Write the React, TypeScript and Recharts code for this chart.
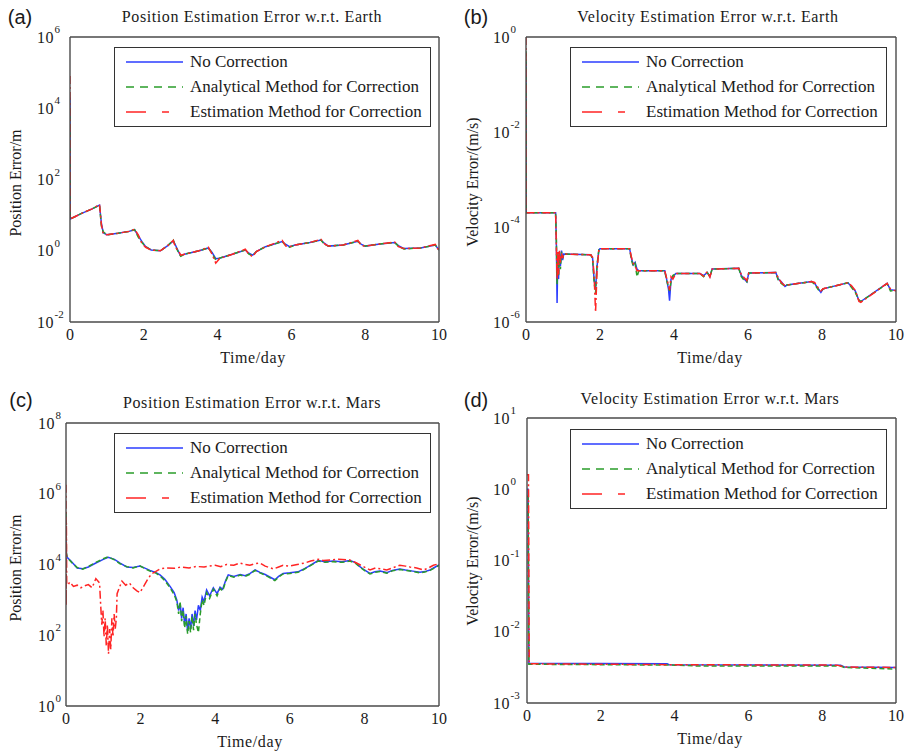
import React from "react";
import { LineChart, Line, XAxis, YAxis, Legend } from "recharts";

type Pt = [number, number];

const SERIF = '"Liberation Serif", "Times New Roman", serif';
const SANS = '"Liberation Sans", Arial, sans-serif';

// tick values
const dayTicks = [0, 2, 4, 6, 8, 10];
const posEarthTicks = [1e-2, 1, 1e2, 1e4, 1e6];
const velEarthTicks = [1e-6, 1e-4, 1e-2, 1];
const posMarsTicks = [1, 1e2, 1e4, 1e6, 1e8];
const velMarsTicks = [1e-3, 1e-2, 1e-1, 1, 10];
const velMarsMinor = [
  0.002, 0.003, 0.004, 0.005, 0.006, 0.007, 0.008, 0.009,
  0.02, 0.03, 0.04, 0.05, 0.06, 0.07, 0.08, 0.09,
  0.2, 0.3, 0.4, 0.5, 0.6, 0.7, 0.8, 0.9,
  2, 3, 4, 5, 6, 7, 8, 9,
];

const seriesNames = [
  "No Correction",
  "Analytical Method for Correction",
  "Estimation Method for Correction",
];

// (a) position error w.r.t. Earth, [day, m]
const posEarthNo: Pt[] = [
  [0, 2e4], [0.005, 7.8], [0.3, 11], [0.6, 15], [0.8, 19], [0.85, 6], [0.9, 3.2], [1.0, 2.8],
  [1.3, 3.1], [1.6, 3.5], [1.75, 3.9], [1.85, 2.6], [1.95, 1.8], [2.05, 1.3], [2.2, 1.05],
  [2.45, 1.0], [2.65, 1.4], [2.8, 1.9], [2.85, 1.5], [2.95, 0.9], [3.0, 0.72], [3.1, 0.8],
  [3.5, 1.0], [3.75, 1.2], [3.85, 0.9], [3.95, 0.6], [4.05, 0.62], [4.4, 0.8], [4.75, 1.05],
  [4.85, 0.85], [4.95, 0.75], [5.05, 0.95], [5.3, 1.3], [5.75, 1.8], [5.85, 1.5], [5.95, 1.3],
  [6.1, 1.45], [6.5, 1.7], [6.8, 2.0], [6.9, 1.6], [7.0, 1.35], [7.4, 1.45], [7.8, 1.85],
  [7.9, 1.5], [8.0, 1.35], [8.4, 1.55], [8.8, 1.7], [8.9, 1.4], [9.05, 1.15], [9.5, 1.2],
  [9.9, 1.45], [10, 1.05],
];
const posEarthAna: Pt[] = [
  [0, 1e4], [0.005, 7.8], [0.3, 11], [0.6, 15], [0.8, 19], [0.85, 5], [0.9, 3.4], [1.0, 2.8],
  [1.3, 3.1], [1.6, 3.5], [1.75, 3.9], [1.85, 2.4], [1.95, 1.7], [2.05, 1.3], [2.2, 1.05],
  [2.45, 1.0], [2.65, 1.4], [2.8, 2.0], [2.85, 1.4], [2.95, 0.85], [3.0, 0.7], [3.1, 0.8],
  [3.5, 1.0], [3.75, 1.2], [3.85, 0.85], [3.95, 0.55], [4.05, 0.62], [4.4, 0.8], [4.75, 1.05],
  [4.85, 0.8], [4.95, 0.72], [5.05, 0.95], [5.3, 1.3], [5.75, 1.8], [5.85, 1.4], [5.95, 1.25],
  [6.1, 1.45], [6.5, 1.7], [6.8, 2.0], [6.9, 1.5], [7.0, 1.35], [7.4, 1.45], [7.8, 1.85],
  [7.9, 1.45], [8.0, 1.35], [8.4, 1.55], [8.8, 1.7], [8.9, 1.35], [9.05, 1.12], [9.5, 1.2],
  [9.9, 1.45], [10, 1.05],
];
const posEarthEst: Pt[] = [
  [0, 8e4], [0.005, 7.8], [0.3, 11], [0.6, 15], [0.8, 20], [0.85, 5.5], [0.9, 3.0], [1.0, 2.8],
  [1.3, 3.1], [1.6, 3.5], [1.75, 4.0], [1.85, 2.8], [1.95, 1.6], [2.05, 1.25], [2.2, 1.05],
  [2.45, 1.0], [2.65, 1.4], [2.8, 1.95], [2.85, 1.3], [2.95, 0.95], [3.0, 0.75], [3.1, 0.8],
  [3.5, 1.0], [3.75, 1.25], [3.85, 0.8], [3.95, 0.45], [4.05, 0.6], [4.4, 0.8], [4.75, 1.1],
  [4.85, 0.8], [4.95, 0.68], [5.05, 0.95], [5.3, 1.3], [5.75, 1.95], [5.85, 1.35], [5.95, 1.3],
  [6.1, 1.45], [6.5, 1.7], [6.8, 2.1], [6.9, 1.55], [7.0, 1.35], [7.4, 1.45], [7.8, 1.95],
  [7.9, 1.4], [8.0, 1.35], [8.4, 1.55], [8.8, 1.75], [8.9, 1.3], [9.05, 1.15], [9.5, 1.2],
  [9.9, 1.5], [10, 1.0],
];

// (b) velocity error w.r.t. Earth, [day, m/s]
const velEarthNo: Pt[] = [
  [0, 0.3], [0.005, 2e-4], [0.8, 2e-4], [0.82, 5e-5], [0.84, 2.5e-6], [0.86, 2.5e-5], [0.88, 8e-6],
  [0.9, 3e-5], [0.93, 1.5e-5], [0.96, 3.2e-5], [0.99, 2e-5], [1.02, 2.7e-5], [1.75, 2.6e-5],
  [1.8, 2.2e-5], [1.84, 8e-6], [1.88, 5e-6], [1.92, 1.5e-5], [1.97, 3.3e-5], [2.0, 3.5e-5],
  [2.8, 3.5e-5], [2.85, 2.2e-5], [2.9, 1.6e-5], [2.95, 1.8e-5], [3.0, 1.3e-5], [3.05, 1.2e-5],
  [3.75, 1.2e-5], [3.8, 8e-6], [3.85, 5e-6], [3.88, 2.8e-6], [3.92, 8e-6], [3.97, 9e-6],
  [4.05, 1.05e-5], [4.7, 1.05e-5], [4.8, 9.5e-6], [4.9, 1.1e-5], [4.97, 9e-6], [5.03, 1.3e-5],
  [5.75, 1.35e-5], [5.82, 9.5e-6], [5.9, 8e-6], [5.97, 7e-6], [6.02, 1.07e-5], [6.75, 1.1e-5],
  [6.82, 8e-6], [6.9, 7e-6], [7.0, 5.6e-6], [7.05, 6e-6], [7.72, 7.1e-6], [7.8, 6.5e-6],
  [7.9, 5e-6], [7.97, 4.2e-6], [8.03, 5e-6], [8.7, 6.7e-6], [8.8, 5.5e-6], [8.9, 4.5e-6],
  [9.0, 2.8e-6], [9.05, 2.7e-6], [9.76, 6.5e-6], [9.85, 4.8e-6], [10, 4.6e-6],
];
const velEarthAna: Pt[] = [
  [0, 0.5], [0.005, 2e-4], [0.8, 2e-4], [0.82, 6e-5], [0.84, 6e-6], [0.86, 2.8e-5], [0.88, 9e-6],
  [0.9, 2.6e-5], [0.93, 1.3e-5], [0.96, 3e-5], [0.99, 2.2e-5], [1.02, 2.7e-5], [1.75, 2.6e-5],
  [1.8, 2.1e-5], [1.84, 7e-6], [1.88, 4e-6], [1.92, 1.6e-5], [1.97, 3.3e-5], [2.0, 3.5e-5],
  [2.8, 3.5e-5], [2.85, 2.0e-5], [2.9, 1.5e-5], [2.95, 1.7e-5], [3.0, 9e-6], [3.05, 1.2e-5],
  [3.75, 1.2e-5], [3.8, 7.5e-6], [3.85, 5.5e-6], [3.88, 4.5e-6], [3.92, 7e-6], [3.97, 9.5e-6],
  [4.05, 1.05e-5], [4.7, 1.05e-5], [4.8, 9e-6], [4.9, 1.1e-5], [4.97, 9e-6], [5.03, 1.3e-5],
  [5.75, 1.35e-5], [5.82, 9e-6], [5.9, 7.5e-6], [5.97, 7e-6], [6.02, 1.07e-5], [6.75, 1.1e-5],
  [6.82, 7.5e-6], [6.9, 6.5e-6], [7.0, 5.6e-6], [7.05, 6e-6], [7.72, 7.1e-6], [7.8, 6.2e-6],
  [7.9, 4.8e-6], [7.97, 4.4e-6], [8.03, 5e-6], [8.7, 6.7e-6], [8.8, 5.3e-6], [8.9, 4.2e-6],
  [9.0, 2.9e-6], [9.05, 2.7e-6], [9.76, 6.4e-6], [9.85, 4.5e-6], [10, 4.6e-6],
];
const velEarthEst: Pt[] = [
  [0, 1.0], [0.005, 2e-4], [0.8, 2e-4], [0.82, 4e-5], [0.84, 8e-6], [0.86, 3e-5], [0.88, 1e-5],
  [0.9, 3.3e-5], [0.93, 1.8e-5], [0.96, 2.8e-5], [0.99, 2.2e-5], [1.02, 2.7e-5], [1.75, 2.6e-5],
  [1.8, 2.3e-5], [1.84, 1e-5], [1.88, 1.6e-6], [1.92, 1.2e-5], [1.97, 3.4e-5], [2.0, 3.5e-5],
  [2.8, 3.5e-5], [2.85, 2.3e-5], [2.9, 1.7e-5], [2.95, 1.5e-5], [3.0, 1.2e-5], [3.05, 1.2e-5],
  [3.75, 1.2e-5], [3.8, 8.5e-6], [3.85, 6e-6], [3.88, 4.7e-6], [3.92, 9e-6], [3.97, 8e-6],
  [4.05, 1.05e-5], [4.7, 1.05e-5], [4.8, 9.2e-6], [4.9, 1.15e-5], [4.97, 8.8e-6], [5.03, 1.3e-5],
  [5.75, 1.35e-5], [5.82, 1e-5], [5.9, 8.5e-6], [5.97, 7.5e-6], [6.02, 1.07e-5], [6.75, 1.1e-5],
  [6.82, 8.5e-6], [6.9, 6.8e-6], [7.0, 5.8e-6], [7.05, 6e-6], [7.72, 7.1e-6], [7.8, 6.8e-6],
  [7.9, 5.2e-6], [7.97, 4.5e-6], [8.03, 5e-6], [8.7, 6.7e-6], [8.8, 5.8e-6], [8.9, 4.6e-6],
  [9.0, 2.7e-6], [9.05, 2.6e-6], [9.76, 6.5e-6], [9.85, 5e-6], [10, 4.5e-6],
];

// (c) position error w.r.t. Mars, [day, m]
const posMarsNo: Pt[] = [
  [0, 6e4], [0.01, 2e4], [0.03, 1.6e4], [0.15, 1.2e4], [0.3, 8e3], [0.45, 7.6e3], [0.6, 8.5e3],
  [0.8, 1.1e4], [1.0, 1.4e4], [1.13, 1.6e4], [1.3, 1.4e4], [1.45, 1.1e4], [1.63, 8.5e3],
  [1.8, 8.2e3], [1.98, 9e3], [2.1, 8e3], [2.25, 6.8e3], [2.4, 6e3], [2.52, 5.1e3], [2.65, 3.8e3],
  [2.79, 2.4e3], [2.9, 1.6e3], [2.97, 1e3], [3.02, 5e2], [3.06, 8e2], [3.1, 3e2], [3.14, 6e2],
  [3.18, 2e2], [3.22, 4e2], [3.26, 1.3e2], [3.3, 3e2], [3.34, 1.5e2], [3.38, 4e2], [3.42, 1.8e2],
  [3.46, 5e2], [3.5, 2.7e2], [3.55, 7e2], [3.6, 5e2], [3.65, 1.2e3], [3.7, 9e2], [3.77, 1.9e3],
  [3.85, 1.3e3], [3.95, 2.2e3], [4.05, 1.5e3], [4.13, 2.3e3], [4.2, 2e3], [4.28, 3.5e3],
  [4.35, 5.1e3], [4.5, 4.6e3], [4.67, 5.2e3], [4.8, 4.8e3], [4.93, 5.5e3], [5.07, 7e3],
  [5.2, 6e3], [5.34, 5.2e3], [5.45, 4.5e3], [5.6, 3.7e3], [5.7, 4.6e3], [5.82, 5.6e3],
  [6.0, 5.8e3], [6.22, 6.2e3], [6.35, 7.2e3], [6.49, 8.7e3], [6.62, 1.05e4], [6.76, 1.3e4],
  [6.95, 1.2e4], [7.16, 1.25e4], [7.4, 1.2e4], [7.61, 1.3e4], [7.75, 1.15e4], [7.88, 8.7e3],
  [8.0, 7e3], [8.15, 5.6e3], [8.28, 6.2e3], [8.42, 6.5e3], [8.6, 5.9e3], [8.75, 6.8e3],
  [8.95, 7.5e3], [9.1, 7e3], [9.3, 6.5e3], [9.49, 6e3], [9.62, 6.3e3], [9.76, 7e3],
  [9.9, 8.5e3], [10, 9.8e3],
];
const posMarsAna: Pt[] = [
  [0, 3e5], [0.01, 2.2e4], [0.03, 1.6e4], [0.15, 1.15e4], [0.3, 8.2e3], [0.45, 7.4e3], [0.6, 8.8e3],
  [0.8, 1.15e4], [1.0, 1.45e4], [1.13, 1.65e4], [1.3, 1.35e4], [1.45, 1.05e4], [1.63, 8.7e3],
  [1.8, 8e3], [1.98, 9.2e3], [2.1, 7.8e3], [2.25, 6.5e3], [2.4, 5.8e3], [2.52, 4.8e3], [2.65, 3.5e3],
  [2.79, 2.2e3], [2.9, 1.4e3], [2.97, 9e2], [3.02, 4e2], [3.06, 9e2], [3.1, 2.5e2], [3.14, 5e2],
  [3.18, 1.6e2], [3.22, 3.5e2], [3.26, 1.1e2], [3.3, 2.5e2], [3.34, 1.2e2], [3.38, 3.5e2],
  [3.42, 1.4e2], [3.46, 4e2], [3.5, 2e2], [3.55, 1.2e2], [3.6, 4e2], [3.65, 1e3], [3.7, 7e2],
  [3.77, 1.6e3], [3.85, 1.1e3], [3.95, 2e3], [4.05, 1.3e3], [4.13, 2.1e3], [4.2, 1.8e3],
  [4.28, 3.3e3], [4.35, 4.9e3], [4.5, 4.4e3], [4.67, 5e3], [4.8, 4.6e3], [4.93, 5.3e3],
  [5.07, 6.8e3], [5.2, 5.8e3], [5.34, 5e3], [5.45, 4.3e3], [5.6, 3.5e3], [5.7, 4.4e3],
  [5.82, 5.4e3], [6.0, 5.6e3], [6.22, 6e3], [6.35, 7e3], [6.49, 8.5e3], [6.62, 1.02e4],
  [6.76, 1.25e4], [6.95, 1.15e4], [7.16, 1.2e4], [7.4, 1.15e4], [7.61, 1.25e4], [7.75, 1.1e4],
  [7.88, 8.4e3], [8.0, 6.8e3], [8.15, 5.4e3], [8.28, 6e3], [8.42, 6.3e3], [8.6, 5.7e3],
  [8.75, 6.6e3], [8.95, 7.2e3], [9.1, 6.8e3], [9.3, 6.3e3], [9.49, 5.8e3], [9.62, 6.1e3],
  [9.76, 6.8e3], [9.9, 8.2e3], [10, 9.5e3],
];
const posMarsEst: Pt[] = [
  [0, 1.8e6], [0.005, 7e2], [0.01, 1.5e5], [0.02, 3e3], [0.05, 2.6e3], [0.1, 3.2e3], [0.2, 2.4e3],
  [0.3, 2.6e3], [0.4, 2.2e3], [0.5, 2.5e3], [0.6, 2.7e3], [0.7, 2.2e3], [0.8, 4e3], [0.9, 3e3],
  [0.93, 7e2], [0.96, 2e2], [0.99, 5e2], [1.02, 9e1], [1.05, 3e2], [1.08, 5e1], [1.11, 2e2],
  [1.14, 3e1], [1.17, 1.5e2], [1.2, 4e1], [1.23, 3e2], [1.26, 9e1], [1.29, 4e2], [1.32, 1.5e2],
  [1.35, 3e2], [1.37, 1.5e3], [1.45, 2.5e3], [1.5, 3.4e3], [1.6, 2.6e3], [1.7, 3e3], [1.8, 2.2e3],
  [1.9, 1.8e3], [1.98, 1.6e3], [2.1, 2.6e3], [2.2, 4e3], [2.3, 5.5e3], [2.4, 6.3e3], [2.52, 7.5e3],
  [2.7, 8e3], [2.9, 7.8e3], [3.1, 8.5e3], [3.3, 8e3], [3.5, 8.8e3], [3.7, 8.5e3], [3.85, 9e3],
  [4.0, 9.5e3], [4.15, 8.7e3], [4.3, 1e4], [4.5, 9.5e3], [4.66, 1.1e4], [4.8, 1e4], [4.93, 9.5e3],
  [5.06, 1.05e4], [5.2, 1.1e4], [5.34, 9e3], [5.56, 7.5e3], [5.7, 8.5e3], [5.82, 9.5e3],
  [6.0, 9e3], [6.2, 1e4], [6.4, 1.1e4], [6.56, 1.25e4], [6.76, 1.4e4], [6.9, 1.3e4],
  [7.1, 1.35e4], [7.3, 1.4e4], [7.6, 1.35e4], [7.79, 1.1e4], [7.95, 9e3], [8.15, 7e3],
  [8.3, 8e3], [8.45, 7.5e3], [8.6, 7e3], [8.75, 8e3], [8.95, 9.5e3], [9.1, 9e3], [9.22, 8.5e3],
  [9.4, 8e3], [9.58, 7e3], [9.72, 8e3], [9.85, 9.5e3], [10, 1.05e4],
];

// (d) velocity error w.r.t. Mars, [day, m/s]
const velMarsNo: Pt[] = [
  [0, 1.0], [0.03, 1.0], [0.05, 3.6e-3], [3.8, 3.55e-3], [3.85, 3.45e-3], [8.5, 3.4e-3],
  [8.6, 3.2e-3], [10, 3.15e-3],
];
const velMarsAna: Pt[] = [
  [0, 0.8], [0.03, 0.8], [0.05, 3.5e-3], [4.0, 3.4e-3], [4.7, 3.3e-3], [8.5, 3.3e-3],
  [8.6, 3.15e-3], [10, 3.0e-3],
];
const velMarsEst: Pt[] = [
  [0, 1.6], [0.04, 1.6], [0.06, 3.55e-3], [4.0, 3.45e-3], [8.4, 3.4e-3], [8.6, 3.2e-3],
  [10, 3.15e-3],
];

const seriesStyles = [
  { color: "#2b3cff", dash: undefined, legendDash: undefined },
  { color: "#2a9d2a", dash: "5 3", legendDash: "8 6" },
  { color: "#ff2424", dash: "8 3 2 3", legendDash: "20 16 7 14" },
];

const toRows = (pts: Pt[]) => pts.map(([t, v]) => ({ t, v }));

type Rect = { left: number; top: number; width: number; height: number };
type PanelCfg = {
  tag: string;
  title: string;
  yLabel: string;
  box: Rect;
  plot: { x: number; y: number; w: number; h: number };
  domain: [number, number];
  ticks: number[];
  minor?: number[];
  series: Pt[][];
  legendAt: [number, number];
  gap: number;
  titleAt: [number, number];
  tagAt: [number, number];
  yLabelAt: [number, number];
  xLabelAt: [number, number];
};

const panels: PanelCfg[] = [
  {
    tag: "(a)", title: "Position Estimation Error w.r.t. Earth", yLabel: "Position Error/m",
    box: { left: 0, top: 0, width: 455, height: 375 }, plot: { x: 70, y: 37, w: 369, h: 285 },
    domain: [1e-2, 1e6], ticks: posEarthTicks, series: [posEarthNo, posEarthAna, posEarthEst],
    legendAt: [114, 47], gap: 16, titleAt: [252, 17], tagAt: [20, 17], yLabelAt: [16, 183], xLabelAt: [253, 358],
  },
  {
    tag: "(b)", title: "Velocity Estimation Error w.r.t. Earth", yLabel: "Velocity Error/(m/s)",
    box: { left: 455, top: 0, width: 454, height: 375 }, plot: { x: 526, y: 37, w: 370, h: 285 },
    domain: [1e-6, 1], ticks: velEarthTicks, series: [velEarthNo, velEarthAna, velEarthEst],
    legendAt: [570, 47], gap: 16, titleAt: [708, 17], tagAt: [476, 17], yLabelAt: [473, 182], xLabelAt: [710, 358],
  },
  {
    tag: "(c)", title: "Position Estimation Error w.r.t. Mars", yLabel: "Position Error/m",
    box: { left: 0, top: 375, width: 455, height: 377 }, plot: { x: 66, y: 423, w: 373, h: 283 },
    domain: [1, 1e8], ticks: posMarsTicks, series: [posMarsNo, posMarsAna, posMarsEst],
    legendAt: [114, 433], gap: 11, titleAt: [252, 403], tagAt: [21, 400], yLabelAt: [16, 568], xLabelAt: [250, 742],
  },
  {
    tag: "(d)", title: "Velocity Estimation Error w.r.t. Mars", yLabel: "Velocity Error/(m/s)",
    box: { left: 455, top: 375, width: 454, height: 377 }, plot: { x: 527, y: 418, w: 369, h: 285 },
    domain: [1e-3, 10], ticks: velMarsTicks, minor: velMarsMinor, series: [velMarsNo, velMarsAna, velMarsEst],
    legendAt: [570, 429], gap: 17, titleAt: [710, 399], tagAt: [476, 400], yLabelAt: [473, 561], xLabelAt: [710, 739],
  },
];

const Y_W = 40;
const X_H = 24;
const FRAME = { stroke: "#4a4a4a", strokeWidth: 1.4 };
const TICK = { stroke: "#4a4a4a", strokeWidth: 1 };

function PowTick(props: any) {
  const { x, y, payload } = props;
  const exp = Math.round(Math.log10(payload.value));
  return (
    <g>
      <text x={x} y={y} textAnchor="end" dominantBaseline="central" fontSize={16} fontFamily={SERIF} fill="#1a1a1a" letterSpacing={0.5}>
        10
      </text>
      <text x={x + 0.5} y={y - 8} textAnchor="start" dominantBaseline="central" fontSize={11} fontFamily={SERIF} fill="#1a1a1a">
        {String(exp)}
      </text>
    </g>
  );
}

function LegendBox() {
  return (
    <div
      style={{
        width: 317, height: 80, boxSizing: "border-box", border: "1.5px solid #333",
        background: "#fff", position: "relative", fontFamily: SERIF, fontSize: 17, color: "#1a1a1a",
      }}
    >
      {seriesNames.map((name, i) => (
        <div key={name} style={{ position: "absolute", left: 0, top: 2 + i * 25, height: 24, display: "flex", alignItems: "center", whiteSpace: "nowrap" }}>
          <svg width={75} height={24} style={{ display: "block" }}>
            <line x1={11} x2={68} y1={12} y2={12} stroke={seriesStyles[i].color} strokeWidth={1.6} strokeDasharray={seriesStyles[i].legendDash} />
          </svg>
          <span>{name}</span>
        </div>
      ))}
    </div>
  );
}

function Panel({ cfg }: { cfg: PanelCfg }) {
  const { box, plot } = cfg;
  const margin = {
    top: plot.y - box.top,
    right: box.left + box.width - (plot.x + plot.w),
    bottom: box.top + box.height - (plot.y + plot.h) - X_H,
    left: plot.x - box.left - Y_W,
  };
  const yCommon = { type: "number" as const, scale: "log" as const, domain: cfg.domain, allowDataOverflow: true, interval: 0 as const };
  const xCommon = { type: "number" as const, domain: [0, 10], allowDataOverflow: true, interval: 0 as const, ticks: dayTicks };
  return (
    <div style={{ position: "absolute", left: box.left, top: box.top }}>
      <LineChart width={box.width} height={box.height} margin={margin}>
        <XAxis
          xAxisId="main" dataKey="t" {...xCommon} height={X_H} tickLine={false} tickSize={0} tickMargin={7}
          axisLine={FRAME} tick={{ fontSize: 16, fill: "#1a1a1a", fontFamily: SERIF }}
        />
        <XAxis xAxisId="bottomIn" orientation="bottom" mirror {...xCommon} tick={false} tickSize={5} tickLine={TICK} axisLine={false} />
        <XAxis xAxisId="topIn" orientation="top" mirror {...xCommon} tick={false} tickSize={5} tickLine={TICK} axisLine={FRAME} />
        <YAxis
          yAxisId="main" {...yCommon} ticks={cfg.ticks} width={Y_W} tickLine={false} tickSize={0}
          tickMargin={cfg.gap} axisLine={FRAME} tick={<PowTick />}
        />
        <YAxis yAxisId="leftIn" orientation="left" mirror {...yCommon} ticks={cfg.ticks} tick={false} tickSize={5} tickLine={TICK} axisLine={false} />
        <YAxis yAxisId="rightIn" orientation="right" mirror {...yCommon} ticks={cfg.ticks} tick={false} tickSize={5} tickLine={TICK} axisLine={FRAME} />
        {cfg.minor && (
          <YAxis yAxisId="leftMinor" orientation="left" mirror {...yCommon} ticks={cfg.minor} tick={false} tickSize={3} tickLine={TICK} axisLine={false} />
        )}
        {cfg.minor && (
          <YAxis yAxisId="rightMinor" orientation="right" mirror {...yCommon} ticks={cfg.minor} tick={false} tickSize={3} tickLine={TICK} axisLine={false} />
        )}
        {cfg.series.map((pts, i) => (
          <Line
            key={seriesNames[i]}
            name={seriesNames[i]}
            xAxisId="main"
            yAxisId="main"
            data={toRows(pts)}
            dataKey="v"
            type="linear"
            stroke={seriesStyles[i].color}
            strokeWidth={1.5}
            strokeDasharray={seriesStyles[i].dash}
            dot={false}
            activeDot={false}
            isAnimationActive={false}
          />
        ))}
        <Legend
          layout="vertical"
          align="center"
          verticalAlign="middle"
          content={() => <LegendBox />}
          wrapperStyle={{ left: cfg.legendAt[0] - box.left, top: cfg.legendAt[1] - box.top, width: 317, height: 80 }}
        />
      </LineChart>
    </div>
  );
}

const centered = (x: number, y: number, extra: React.CSSProperties = {}): React.CSSProperties => ({
  position: "absolute",
  left: x,
  top: y,
  transform: "translate(-50%, -50%)",
  whiteSpace: "nowrap",
  color: "#1a1a1a",
  ...extra,
});

export default function App() {
  return (
    <div style={{ position: "absolute", left: 0, top: 0, width: 909, height: 752, background: "#fff", overflow: "hidden" }}>
      {panels.map((cfg) => (
        <Panel key={cfg.tag} cfg={cfg} />
      ))}
      {panels.map((cfg) => (
        <React.Fragment key={cfg.tag + "-text"}>
          <div style={centered(cfg.tagAt[0], cfg.tagAt[1], { fontFamily: SANS, fontSize: 20 })}>{cfg.tag}</div>
          <div style={centered(cfg.titleAt[0], cfg.titleAt[1], { fontFamily: SERIF, fontSize: 16, letterSpacing: 0.6 })}>{cfg.title}</div>
          <div style={centered(cfg.xLabelAt[0], cfg.xLabelAt[1], { fontFamily: SERIF, fontSize: 16, letterSpacing: 0.6 })}>Time/day</div>
          <div
            style={centered(cfg.yLabelAt[0], cfg.yLabelAt[1], {
              fontFamily: SERIF,
              fontSize: 16,
              transform: "translate(-50%, -50%) rotate(-90deg)",
            })}
          >
            {cfg.yLabel}
          </div>
        </React.Fragment>
      ))}
    </div>
  );
}
